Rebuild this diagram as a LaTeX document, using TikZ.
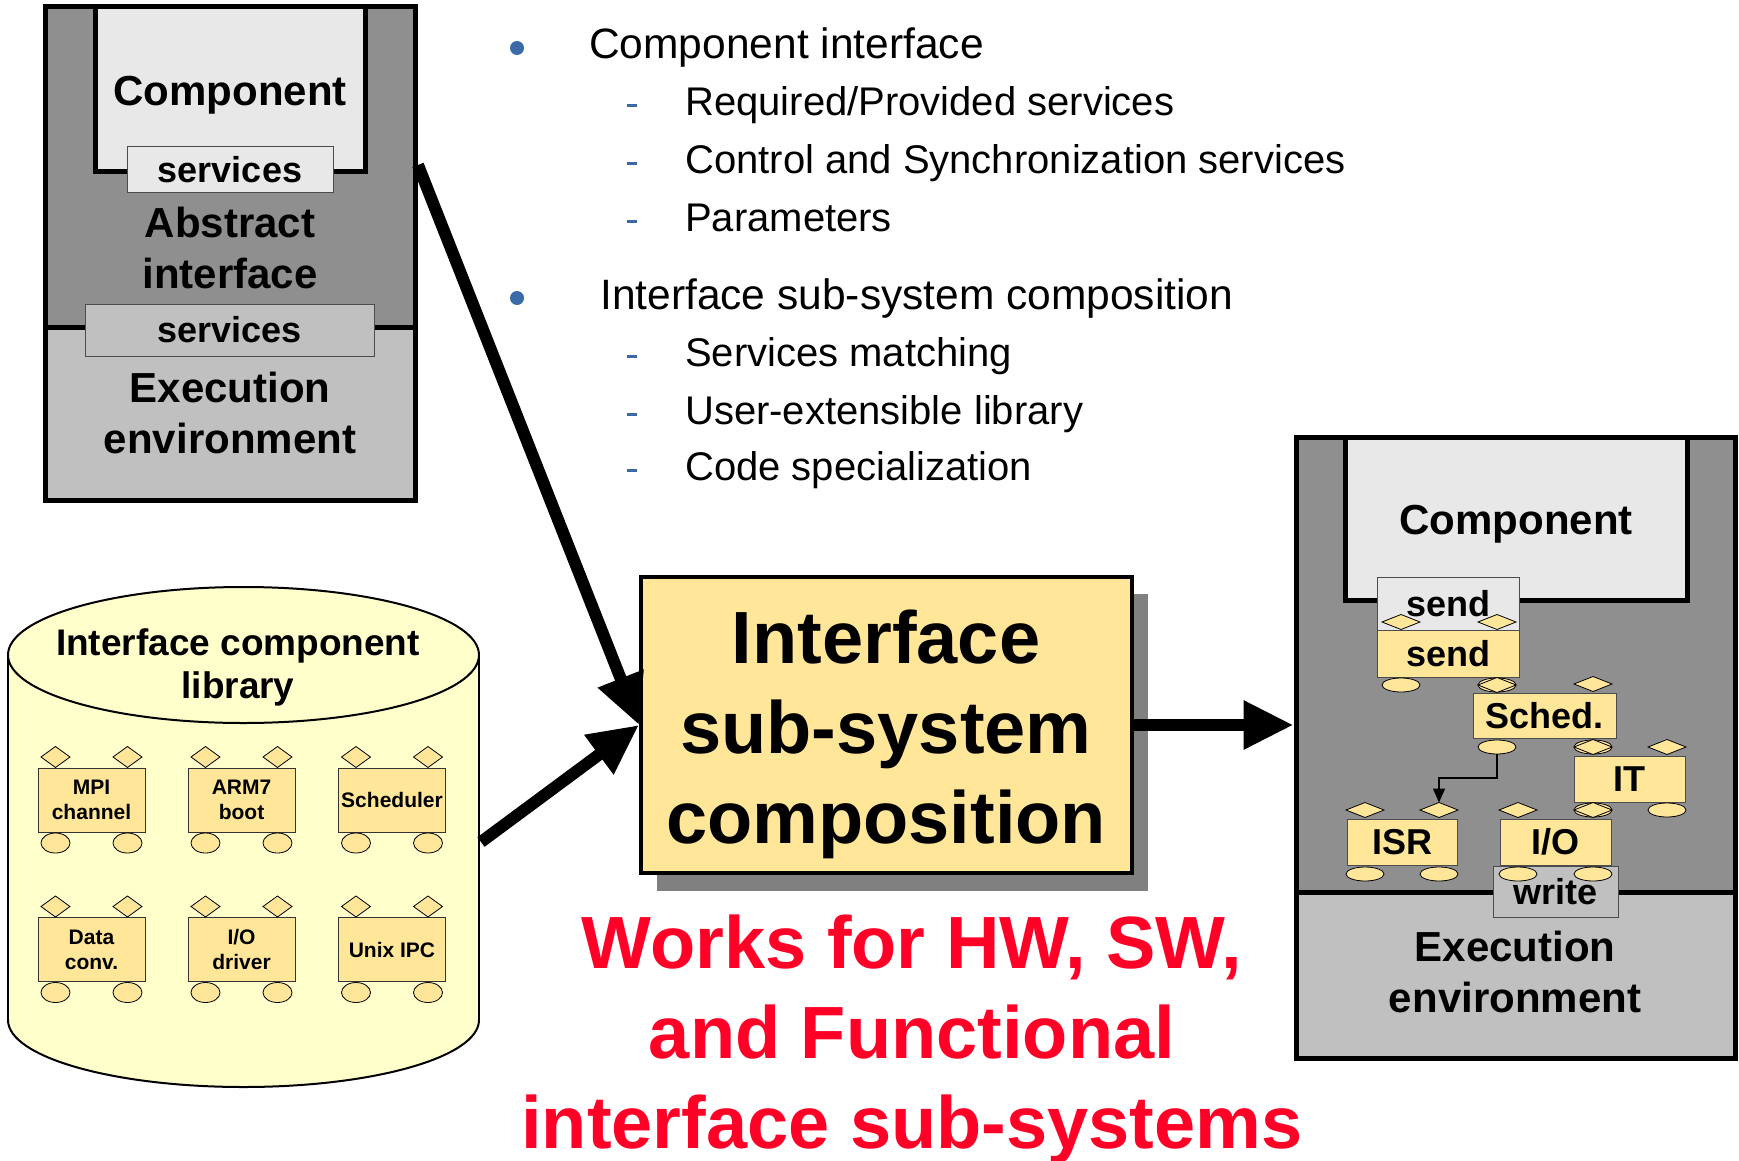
\documentclass[tikz,border=0pt]{standalone}
\usepackage{fontspec}
\setmainfont{Liberation Sans}
\usetikzlibrary{arrows.meta,calc}

\definecolor{darkgr}{HTML}{8F8F8F}
\definecolor{midgr}{HTML}{C0C0C0}
\definecolor{lightgr}{HTML}{E8E8E8}
\definecolor{gold}{HTML}{FFE699}
\definecolor{cream}{HTML}{FFFFCC}
\definecolor{shadowgr}{HTML}{808080}
\definecolor{bulletblue}{HTML}{3A6BA8}
\definecolor{alertred}{HTML}{FF0026}

\tikzset{
  thickbox/.style={draw=black, line width=5pt},
  outerframe/.style={draw=black, line width=5pt, inner sep=0pt},
  % multi-line labels are placed by the baseline of their last line
  biglbl/.style={font=\bfseries\fontsize{42}{51}\selectfont, anchor=base, align=center, inner sep=0pt},
  svcbox/.style={draw=black!70, line width=1pt, inner sep=0pt,
                 font=\bfseries\fontsize{36}{42}\selectfont},
  unitbox/.style={svcbox, fill=gold},
  libbox/.style={draw=black!80, line width=1pt, fill=gold, inner sep=0pt,
                 minimum width=107pt, minimum height=64pt, align=center,
                 font=\bfseries\fontsize{21}{25}\selectfont},
  port/.style={draw=black, line width=0.8pt, fill=gold},
  ldiam/.pic={\path[port] (-14.5,0) -- (0,-10.5) -- (14.5,0) -- (0,10.5) -- cycle;},
  lell/.pic={\path[port] (0,0) ellipse[x radius=14.5, y radius=10];},
  rdiam/.pic={\path[port] (-19,0) -- (0,-7.5) -- (19,0) -- (0,7.5) -- cycle;},
  rell/.pic={\path[port] (0,0) ellipse[x radius=19, y radius=7];},
  bullettext/.style={font=\fontsize{40}{48}\selectfont, anchor=base west, inner sep=0pt},
  headtext/.style={font=\fontsize{42.5}{50}\selectfont, anchor=base west, inner sep=0pt},
  bigarrow/.style={line width=12pt, -{Triangle[length=50pt,width=46pt]}},
  bigtext/.style={font=\bfseries\fontsize{74}{90}\selectfont, align=center, anchor=base, inner sep=0pt},
}

% a library element: box with two service pins on top and two below
\newcommand{\libunit}[4]{%
  \node[libbox] (#1) at (#2,#3) {#4};
  \pic at (#2-36,#3-43) {ldiam};
  \pic at (#2+36,#3-43) {ldiam};
  \pic at (#2-36,#3+43) {lell};
  \pic at (#2+36,#3+43) {lell};
}

\begin{document}
\begin{tikzpicture}[x=1pt,y=-1pt]
\useasboundingbox[fill=white] (0,0) rectangle (1739,1161);

% ---------- abstract component (top left) ----------
\fill[darkgr] (45,7) rectangle (415,327);
\fill[midgr] (45,327) rectangle (415,500);
\draw[line width=5pt] (45,327) -- (415,327);
\draw[thickbox, fill=lightgr] (95,7) rectangle (365,172);
\node[biglbl] (tlcomp) at (230,106) {Component};
\node[svcbox, fill=lightgr, minimum width=206pt, minimum height=46pt] (tlsvc1) at (230,170) {services};
\node[biglbl] (tlabs) at (230,288) {Abstract\\interface};
\node[svcbox, fill=midgr, minimum width=289pt, minimum height=52pt] (tlsvc2) at (229.5,330) {services};
\node[biglbl] (tlexec) at (230,453) {Execution\\environment};
\node[outerframe, minimum width=370pt, minimum height=493pt] (absbox) at (230,253.5) {};
\coordinate (absout) at (418,165);

% ---------- component library (cylinder) ----------
\draw[line width=2pt, fill=cream] (243.5,1020) ellipse[x radius=235.5, y radius=67];
\fill[cream] (8,655) rectangle (479,1020);
\draw[line width=2pt] (8,655) -- (8,1020) (479,655) -- (479,1020);
\draw[line width=2pt, fill=cream] (243.5,655) ellipse[x radius=235.5, y radius=68];
\node[font=\bfseries\fontsize{37}{43}\selectfont, align=center, anchor=base, inner sep=0pt]
  (libtitle) at (238,698) {Interface component\\library};
\coordinate (libout) at (481,842);

\libunit{mpi}{91.5}{800}{MPI\\channel}
\libunit{arm}{241.5}{800}{ARM7\\boot}
\libunit{sch}{392}{800}{Scheduler}
\libunit{dat}{91.5}{949.5}{Data\\conv.}
\libunit{iod}{241.5}{949.5}{I/O\\driver}
\libunit{ipc}{392}{949.5}{Unix IPC}

% ---------- bullet list ----------
\fill[bulletblue] (517,48) circle[radius=7];
\node[headtext] (b1) at (589,59) {Component interface};
\foreach \yb/\nm/\txt in {116/s1/Required\slash Provided services,
                          174/s2/Control and Synchronization services,
                          231/s3/Parameters,
                          366/s4/Services matching,
                          424/s5/User-extensible library,
                          480/s6/Code specialization}{
  \fill[bulletblue] (627,\yb-11.5) rectangle (637,\yb-8.5);
  \node[bullettext] (\nm) at (685,\yb) {\txt};
}
\fill[bulletblue] (517,298) circle[radius=7];
\node[headtext] (b2) at (600,309) {Interface sub-system composition};

% ---------- composition box ----------
\fill[shadowgr] (657,594) rectangle (1148,891);
\node[draw, line width=4pt, fill=gold, minimum width=491pt, minimum height=296pt, inner sep=0pt]
  (isc) at (886.5,725) {};
\node[bigtext] (isctext) at (886,843) {Interface\\sub-system\\composition};

% ---------- implemented interface (right) ----------
\fill[darkgr] (1296,437) rectangle (1735,892);
\fill[midgr] (1296,892) rectangle (1735,1058);
\draw[line width=5pt] (1296,892) -- (1735,892);
\draw[thickbox, fill=lightgr] (1345,437) rectangle (1687,600);
\node[biglbl] (rcomp) at (1516,534) {Component};
\node[svcbox, fill=lightgr, minimum width=142pt, minimum height=53pt] (send1) at (1448,603.5) {send};
\node[unitbox, minimum width=142pt, minimum height=47pt] (send2) at (1448,653.5) {send};
\node[unitbox, minimum width=143pt, minimum height=45pt] (sched) at (1544.5,715.5) {Sched.};
\node[unitbox, minimum width=111pt, minimum height=46pt] (it) at (1629.5,779) {IT};
\node[unitbox, minimum width=110pt, minimum height=46pt] (isr) at (1402,842) {ISR};
\node[unitbox, minimum width=111pt, minimum height=46pt] (io) at (1555.5,842) {I/O};
\node[svcbox, fill=midgr, minimum width=125pt, minimum height=51pt] (write) at (1555.5,891.5) {write};
\foreach \px/\py in {1401/685,1497/685,1497/747,1593/747,1593/810,1667/810,
                     1365/874,1439/874,1518/874,1593/874}
  \pic at (\px,\py) {rell};
\foreach \px/\py in {1401/622,1497/622,1497/685,1593/684,1593/747,1667/747,
                     1365/810,1439/810,1518/810,1593/810}
  \pic at (\px,\py) {rdiam};
\coordinate (schedpin) at (1497,754);
\coordinate (isrpin) at (1439,802.5);
\draw[line width=1.5pt, -{Triangle[length=14pt,width=12pt]}] (schedpin) -- ++(0,24) -| (isrpin);
\node[biglbl] (rexec) at (1515,1012) {Execution\\environment};
\node[outerframe, minimum width=439pt, minimum height=621pt] (impl) at (1515.5,747.5) {};

% ---------- flow arrows ----------
\draw[bigarrow] (absout) -- (isc.west);
\draw[bigarrow] (libout) -- (isc.west);
\draw[bigarrow] (isc.east) -- (isc.east -| impl.west);

% ---------- note ----------
\node[bigtext, text=alertred] (works) at (912,1148) {Works for HW, SW,\\and Functional\\interface sub-systems};
\end{tikzpicture}
\end{document}
